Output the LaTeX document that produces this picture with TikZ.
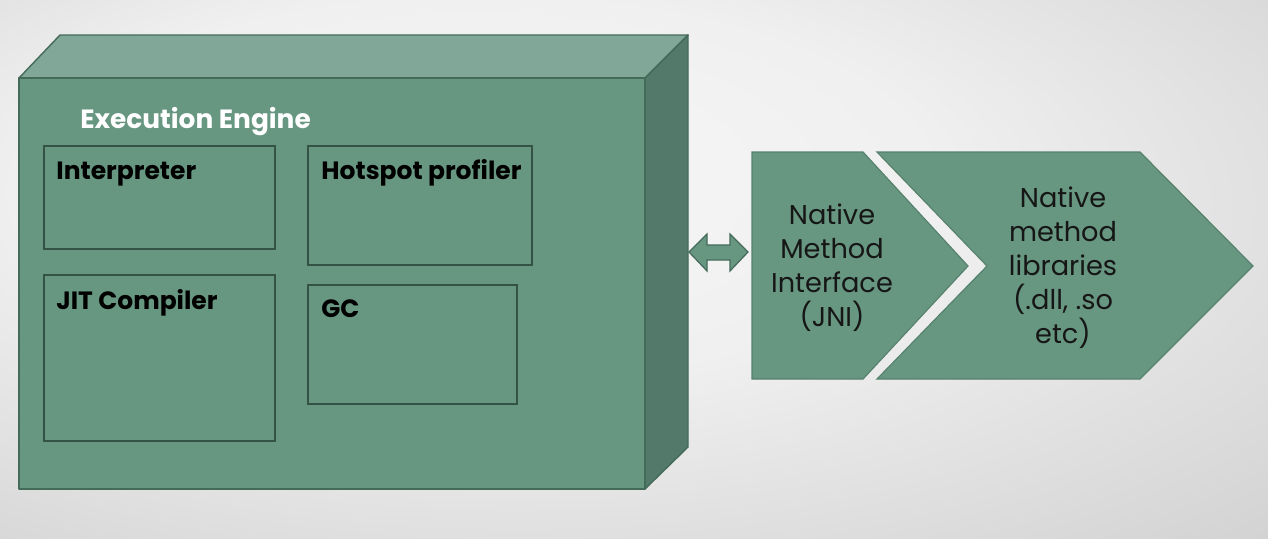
\documentclass[tikz,border=0pt]{standalone}
\usepackage{fontspec}
\setmainfont{Poppins}
\definecolor{frontc}{RGB}{103,150,129}
\definecolor{topc}{RGB}{128,167,151}
\definecolor{sidec}{RGB}{82,121,105}
\definecolor{edgec}{RGB}{68,106,90}
\definecolor{boxc}{RGB}{52,82,69}
\definecolor{chevc}{RGB}{86,130,110}
\definecolor{txtc}{RGB}{22,22,22}
\pgfdeclareradialshading{bgshade}{\pgfpoint{-8bp}{10bp}}{color(0bp)=(white!97!black); color(18bp)=(white!94!black); color(40bp)=(white!83!black); color(70bp)=(white!74!black)}
\begin{document}
\begin{tikzpicture}[x=0.5pt,y=-0.5pt,
  facestyle/.style={draw=edgec, line width=0.7pt, line join=round},
  innerbox/.style={draw=boxc, line width=0.6pt},
  boxlabel/.style={anchor=base west, inner sep=0pt, font=\bfseries\fontsize{12.5pt}{15pt}\selectfont, text=black},
  chevshape/.style={fill=frontc, draw=chevc, line width=0.6pt, line join=miter},
  chevtext/.style={align=center, inner sep=0pt, text=txtc, font=\fontsize{13.6pt}{17pt}\selectfont}]
\useasboundingbox (0,0) rectangle (1268,538);
\shade[shading=bgshade] (0,0) rectangle (1268,538);
% cube
\filldraw[facestyle, fill=topc] (19,78) -- (60,35) -- (688,35) -- (645,78) -- cycle;
\filldraw[facestyle, fill=sidec] (645,78) -- (688,35) -- (688,447) -- (645,489) -- cycle;
\filldraw[facestyle, fill=frontc] (19,78) rectangle (645,489);
\node[anchor=base west, inner sep=0pt, text=white, font=\bfseries\fontsize{13.2pt}{15pt}\selectfont] (ee) at (80,128) {Execution Engine};
% inner boxes
\draw[innerbox] (44,146) rectangle (275,249);
\draw[innerbox] (308,146) rectangle (532,265);
\draw[innerbox] (44,275) rectangle (275,441);
\draw[innerbox] (308,285) rectangle (517,404);
\node[boxlabel] (interp) at (56,179) {Interpreter};
\node[boxlabel] (hot) at (321,179) {Hotspot profiler};
\node[boxlabel] (jit) at (56,309) {JIT Compiler};
\node[boxlabel] (gc) at (321,317) {GC};
% double arrow
\filldraw[fill=frontc, draw=edgec, line width=0.6pt, line join=miter]
  (689,252) -- (707,234) -- (707,245) -- (730,245) -- (730,234) -- (748,252)
  -- (730,271) -- (730,260) -- (707,260) -- (707,271) -- cycle;
% chevrons
\filldraw[chevshape] (752,152) -- (863,152) -- (968,266) -- (863,379) -- (752,379) -- cycle;
\filldraw[chevshape] (877,152) -- (1140,152) -- (1253,266) -- (1140,379) -- (877,379) -- (987,266) -- cycle;
\node[chevtext] (jni) at (832,268) {Native\\Method\\Interface\\(JNI)};
\node[chevtext] (lib) at (1063,268) {Native\\method\\libraries\\(.dll, .so\\etc)};
\end{tikzpicture}
\end{document}
